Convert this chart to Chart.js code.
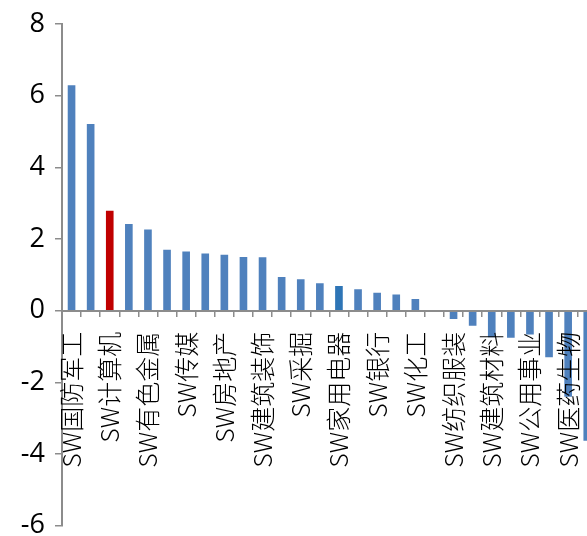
<!DOCTYPE html>
<html>
<head>
<meta charset="utf-8">
<script src="https://cdn.jsdelivr.net/npm/chart.js@4.4.1/dist/chart.umd.min.js"></script>
<style>
  html, body { margin: 0; padding: 0; background: #ffffff; overflow: hidden; }
  #wrap { width: 600px; height: 536px; }
</style>
</head>
<body>
<div id="wrap"><canvas id="chart" width="600" height="536"></canvas></div>
<script>
// Shenwan level-1 industries; only every other name is printed on the axis
const categories = [
  'SW国防军工', '', 'SW计算机', '', 'SW有色金属', '', 'SW传媒', '',
  'SW房地产', '', 'SW建筑装饰', '', 'SW采掘', '', 'SW家用电器', '',
  'SW银行', '', 'SW化工', '', 'SW纺织服装', '', 'SW建筑材料', '',
  'SW公用事业', '', 'SW医药生物', ''
];

// Return for each industry (%)
const values = [
  6.29, 5.21, 2.79, 2.42, 2.27, 1.70, 1.65, 1.60,
  1.56, 1.50, 1.49, 0.94, 0.88, 0.77, 0.69, 0.60,
  0.50, 0.45, 0.33, 0.00, -0.23, -0.42, -0.74, -0.75,
  -0.66, -1.30, -2.40, -3.63
];

const yTicks = [-6, -4, -2, 0, 2, 4, 6, 8];

// Highlighted industries
const redCategory = 'SW计算机';
const darkCategory = 'SW家用电器';

const barColors = categories.map(c =>
  c === redCategory ? '#C00000' : (c === darkCategory ? '#2E75B6' : '#4F81BD'));

const axisGray = '#8C8C8C';

new Chart(document.getElementById('chart'), {
  type: 'bar',
  data: {
    labels: categories,
    datasets: [{
      data: values,
      backgroundColor: barColors,
      borderWidth: 0,
      barPercentage: 0.4,
      categoryPercentage: 1.0
    }]
  },
  options: {
    responsive: false,
    animation: false,
    events: [],
    layout: { padding: { left: 0, top: 24, right: 3.2, bottom: 10.2 } },
    plugins: { legend: { display: false }, tooltip: { enabled: false } },
    scales: {
      x: {
        position: { y: 0 },
        grid: { drawOnChartArea: false, drawTicks: true, tickLength: 5, color: axisGray, lineWidth: 1.5, z: 1 },
        border: { color: axisGray, width: 2, z: 1 },
        ticks: {
          autoSkip: false,
          minRotation: 90,
          maxRotation: 90,
          padding: 16,
          color: '#000000',
          z: 1,
          font: { family: '"Noto Sans CJK SC", "Noto Sans", sans-serif', size: 25, weight: 300 }
        },
        afterFit(scale) { scale.paddingLeft = 0; scale.paddingRight = 0; }
      },
      y: {
        min: yTicks[0],
        max: yTicks[yTicks.length - 1],
        afterBuildTicks(scale) { scale.ticks = yTicks.map(v => ({ value: v })); },
        grid: { drawOnChartArea: false, drawTicks: true, tickLength: 7, color: axisGray, lineWidth: 1.5 },
        border: { color: axisGray, width: 2 },
        ticks: {
          padding: 10,
          color: '#000000',
          font: { family: '"Open Sans", sans-serif', size: 27, lineHeight: 1 }
        },
        afterFit(scale) { scale.width = 62; scale.paddingTop = 0; scale.paddingBottom = 0; }
      }
    }
  }
});
</script>
</body>
</html>
